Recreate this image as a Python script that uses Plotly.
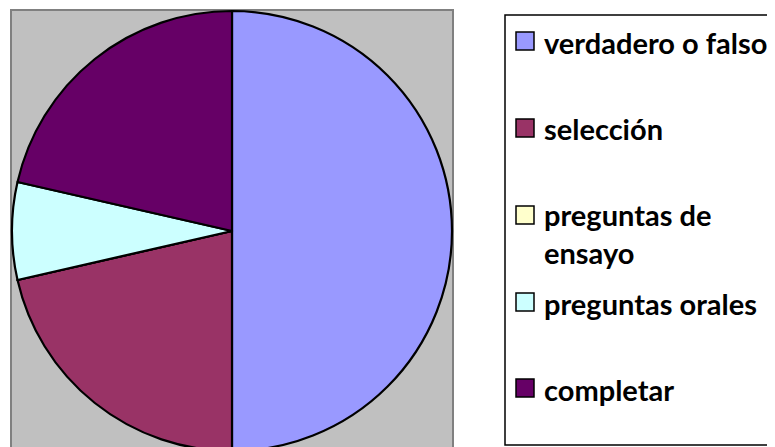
import plotly.graph_objects as go

# ---- data ----
labels = ["verdadero o falso", "selección", "preguntas de ensayo", "preguntas orales", "completar"]
values = [14, 6, 0, 2, 6]
colors = ["#9999FF", "#993366", "#FFFFCC", "#CCFFFF", "#660066"]

W, H = 775, 447
OFF = 8  # page body margin offset

def px(x):
    return (x - OFF) / W

def py(y):
    return 1 - (y - OFF) / H

fig = go.Figure()
fig.add_trace(go.Pie(
    labels=labels,
    values=values,
    sort=False,
    direction="clockwise",
    rotation=0,
    marker=dict(colors=colors, line=dict(color="black", width=2.2)),
    textinfo="none",
    hoverinfo="label+value+percent",
    showlegend=False,
    domain=dict(x=[px(12), px(452)], y=[py(451), py(11)]),
))

shapes = [
    # gray plot area
    dict(type="rect", xref="paper", yref="paper", x0=px(11), x1=px(453), y0=-0.1, y1=py(10),
         fillcolor="#C0C0C0", line=dict(color="#808080", width=2), layer="below"),
    # legend box
    dict(type="rect", xref="paper", yref="paper", x0=px(505), x1=px(800), y0=py(445), y1=py(15),
         fillcolor="white", line=dict(color="black", width=1.5), layer="below"),
]

annotations = []
item_y = [41, 128, 215, 302, 388]
fsize = 29
font = dict(family="Lato", size=fsize, color="black")
for lab, col, yc in zip(labels, colors, item_y):
    shapes.append(dict(type="rect", xref="paper", yref="paper",
                       x0=px(516), x1=px(534), y0=py(yc + 9), y1=py(yc - 9),
                       fillcolor=col, line=dict(color="black", width=1.5)))
    text = "<b>" + lab.replace("de ensayo", "de<br>ensayo") + "</b>"
    nlines = text.count("<br>") + 1
    yt = yc + 1 + (nlines - 1) * 35 / 2
    annotations.append(dict(xref="paper", yref="paper", x=px(543), y=py(yt),
                            xanchor="left", yanchor="middle", align="left",
                            text=text, showarrow=False, font=font, borderpad=0))

fig.update_layout(
    width=W, height=H,
    margin=dict(l=0, r=0, t=0, b=0),
    paper_bgcolor="white",
    plot_bgcolor="white",
    shapes=shapes,
    annotations=annotations,
)

fig.write_html("out.html")
